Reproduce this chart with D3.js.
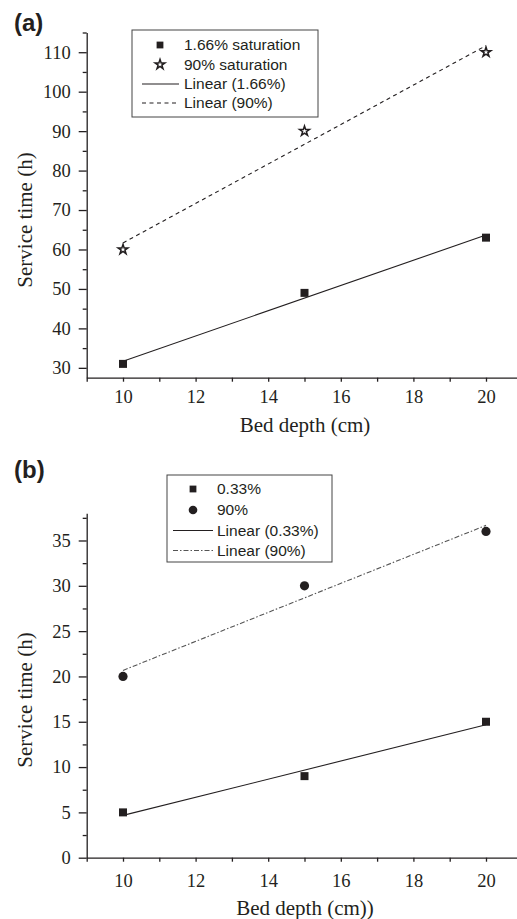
<!DOCTYPE html>
<html>
<head>
<meta charset="utf-8">
<script src="https://cdn.jsdelivr.net/npm/d3@7"></script>
<style>
  html, body { margin: 0; padding: 0; background: #fff; }
  svg { display: block; }
</style>
</head>
<body>
<svg id="chart" width="517" height="919"></svg>
<script>
// ---- data ----
const bedDepth = [10, 15, 20];
const aLow = [31, 49, 63];     // 1.66% saturation
const aHigh = [60, 90, 110];   // 90% saturation
const bLow = [5, 9, 15];       // 0.33%
const bHigh = [20, 30, 36];    // 90%
const xTickVals = [10, 12, 14, 16, 18, 20];
const xMinorVals = [9, 11, 13, 15, 17, 19, 21];
const aYTicks = [30, 40, 50, 60, 70, 80, 90, 100, 110];
const aYMinor = [35, 45, 55, 65, 75, 85, 95, 105, 115];
const bYTicks = [0, 5, 10, 15, 20, 25, 30, 35];
const bYMinor = [2.5, 7.5, 12.5, 17.5, 22.5, 27.5, 32.5, 37.5];
const aLegend = ["1.66% saturation", "90% saturation", "Linear (1.66%)", "Linear (90%)"];
const bLegend = ["0.33%", "90%", "Linear (0.33%)", "Linear (90%)"];

const svg = d3.select("#chart");
const INK = "#231f20";
const SERIF = "'Liberation Serif', 'Times New Roman', serif";
const SANS = "'Liberation Sans', Arial, sans-serif";

function fit(xs, ys) {
  const n = xs.length;
  const mx = d3.mean(xs), my = d3.mean(ys);
  let sxy = 0, sxx = 0;
  for (let i = 0; i < n; i++) { sxy += (xs[i]-mx)*(ys[i]-my); sxx += (xs[i]-mx)**2; }
  const m = sxy / sxx, b = my - m*mx;
  const x0 = d3.min(xs), x1 = d3.max(xs);
  return [[x0, m*x0+b], [x1, m*x1+b]];
}

function panel(cfg) {
  const x = d3.scaleLinear().domain([9, 21]).range([86.7, 522.3]);
  const y = d3.scaleLinear().domain(cfg.yDomain).range(cfg.yRange);
  const g = svg.append("g");

  // x axis
  const xAxisY = cfg.yRange[0];
  g.append("g").attr("transform", `translate(0,${xAxisY})`)
    .call(d3.axisBottom(x).tickValues(xTickVals).tickSize(4).tickSizeOuter(0).tickPadding(cfg.xPad).tickFormat(d3.format("d")));
  g.append("g").attr("transform", `translate(0,${xAxisY})`)
    .call(d3.axisBottom(x).tickValues(xMinorVals).tickSize(4).tickSizeOuter(0).tickFormat(""))
    .select(".domain").remove();
  // y axis
  g.append("g").attr("transform", `translate(${x(9)},0)`)
    .call(d3.axisLeft(y).tickValues(cfg.yTicks).tickSize(8).tickSizeOuter(0).tickPadding(8).tickFormat(d3.format("d")));
  g.append("g").attr("transform", `translate(${x(9)},0)`)
    .call(d3.axisLeft(y).tickValues(cfg.yMinor).tickSize(4).tickSizeOuter(0).tickFormat(""))
    .select(".domain").remove();

  g.selectAll(".domain, .tick line").attr("stroke", INK).attr("stroke-width", 1.3);
  g.selectAll(".tick text").attr("font-family", SERIF).attr("font-size", 18.5).attr("fill", INK);

  // axis titles
  g.append("text").attr("x", 305).attr("y", cfg.xTitleY).attr("text-anchor", "middle")
    .attr("font-family", SERIF).attr("font-size", 21).attr("fill", INK).text(cfg.xTitle);
  g.append("text").attr("transform", `translate(32,${cfg.yTitleY}) rotate(-90)`).attr("text-anchor", "middle")
    .attr("font-family", SERIF).attr("font-size", 21).attr("fill", INK).text("Service time (h)");
  // panel label
  g.append("text").attr("x", 14).attr("y", cfg.labelY).attr("font-family", SANS).attr("font-weight", "bold")
    .attr("font-size", 24).attr("fill", INK).text(cfg.label);

  // fit lines
  const line = d3.line().x(d => x(d[0])).y(d => y(d[1]));
  g.append("path").attr("d", line(fit(bedDepth, cfg.low))).attr("fill", "none")
    .attr("stroke", INK).attr("stroke-width", 1.1);
  g.append("path").attr("d", line(fit(bedDepth, cfg.high))).attr("fill", "none")
    .attr("stroke", cfg.highStroke).attr("stroke-width", 1.1).attr("stroke-dasharray", cfg.highDash);

  // markers
  const sq = d3.symbol().type(d3.symbolSquare).size(64);
  const st = d3.symbol().type(d3.symbolStar).size(30);
  g.selectAll(".lowpt").data(bedDepth).join("path")
    .attr("d", sq).attr("transform", (d, i) => `translate(${x(d)},${y(cfg.low[i])})`).attr("fill", INK);
  if (cfg.highShape === "star") {
    g.selectAll(".highpt").data(bedDepth).join("path")
      .attr("d", st).attr("transform", (d, i) => `translate(${x(d)},${y(cfg.high[i])})`)
      .attr("fill", "#fff").attr("stroke", INK).attr("stroke-width", 1.5);
  } else {
    g.selectAll(".highpt").data(bedDepth).join("circle")
      .attr("cx", d => x(d)).attr("cy", (d, i) => y(cfg.high[i])).attr("r", 4.6).attr("fill", INK);
  }

  // legend
  const L = cfg.legend;
  g.append("rect").attr("x", L.x0).attr("y", L.y0).attr("width", L.x1 - L.x0).attr("height", L.y1 - L.y0)
    .attr("fill", "#fff").attr("stroke", "#444").attr("stroke-width", 1);
  const rows = L.rows;
  g.append("path").attr("d", sq).attr("fill", INK)
    .attr("transform", `translate(${L.mx},${rows[0]}) scale(0.85)`);
  if (cfg.highShape === "star") {
    g.append("path").attr("d", st).attr("transform", `translate(${L.mx},${rows[1]})`)
      .attr("fill", "#fff").attr("stroke", INK).attr("stroke-width", 1.5);
  } else {
    g.append("circle").attr("cx", L.mx).attr("cy", rows[1]).attr("r", 4.3).attr("fill", INK);
  }
  g.append("line").attr("x1", L.lx0).attr("x2", L.lx1).attr("y1", rows[2]).attr("y2", rows[2])
    .attr("stroke", INK).attr("stroke-width", 1.1);
  g.append("line").attr("x1", L.lx0).attr("x2", L.lx1).attr("y1", rows[3]).attr("y2", rows[3])
    .attr("stroke", cfg.highStroke).attr("stroke-width", 1.1).attr("stroke-dasharray", cfg.highDash);
  g.selectAll(".legtext").data(cfg.legendText).join("text")
    .attr("x", L.tx).attr("y", (d, i) => rows[i]).attr("dy", "0.35em")
    .attr("font-family", SANS).attr("font-size", 15.5).attr("fill", INK).text(d => d);
}

panel({
  label: "(a)", labelY: 31,
  yDomain: [27.5, 115], yRange: [377.7, 32.5],
  yTicks: aYTicks, yMinor: aYMinor,
  low: aLow, high: aHigh, highShape: "star",
  highStroke: INK, highDash: "4,3.5",
  xPad: 8, xTitle: "Bed depth (cm)", xTitleY: 432, yTitleY: 220,
  legend: { x0: 132, x1: 318, y0: 30, y1: 117, rows: [45, 64.5, 84, 103], mx: 160, lx0: 142, lx1: 179, tx: 184 },
  legendText: aLegend
});

panel({
  label: "(b)", labelY: 478,
  yDomain: [0, 38], yRange: [857.7, 513.3],
  yTicks: bYTicks, yMinor: bYMinor,
  low: bLow, high: bHigh, highShape: "circle",
  highStroke: "#555", highDash: "5,2,1.5,2",
  xPad: 12, xTitle: "Bed depth (cm))", xTitleY: 915, yTitleY: 700,
  legend: { x0: 167, x1: 332, y0: 475, y1: 562, rows: [489, 510, 530.5, 550.5], mx: 193, lx0: 173, lx1: 213, tx: 217 },
  legendText: bLegend
});
</script>
</body>
</html>
